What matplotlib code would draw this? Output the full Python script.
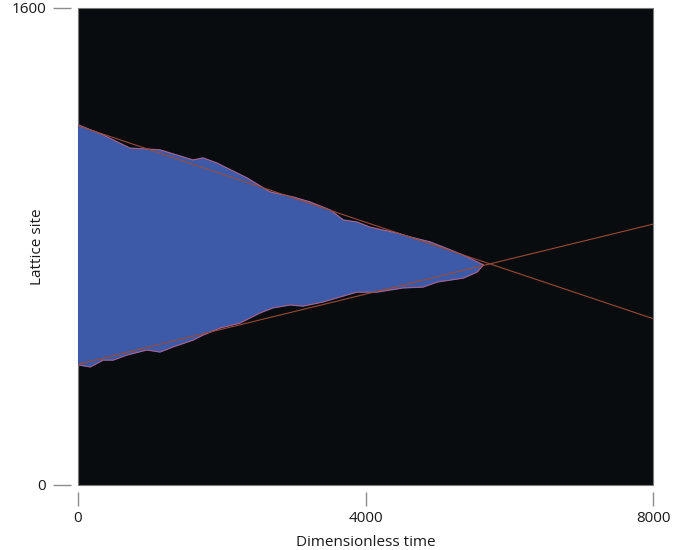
import matplotlib
matplotlib.use("Agg")
import matplotlib.pyplot as plt
import numpy as np

# -- data --
upper_t = [0, 350, 720, 1140, 1600, 1740, 1930, 2350, 2670, 2990, 3230,
           3510, 3690, 3880, 4060, 4240, 4440, 4620, 4900, 5080, 5360, 5640]
upper_v = [1208, 1174, 1130, 1124, 1090, 1097, 1080, 1030, 983, 966, 949,
           922, 889, 882, 865, 855, 845, 832, 815, 798, 771, 738]

lower_t = [0, 170, 350, 490, 680, 960, 1140, 1320, 1600, 1740, 1980, 2250,
           2530, 2710, 2950, 3130, 3410, 3650, 3880, 4160, 4520, 4800, 5000,
           5360, 5550, 5640]
lower_v = [403, 396, 419, 419, 436, 453, 446, 463, 486, 503, 527, 543,
           577, 594, 604, 600, 614, 631, 647, 647, 661, 664, 681,
           694, 714, 738]

fit_upper_t = [0, 8000]
fit_upper_v = [1205, 558]
fit_lower_t = [0, 8000]
fit_lower_v = [405, 875]

x_ticks = [0, 4000, 8000]
y_ticks = [0, 1600]

PALETTE = {
    "bg": "#080c0e",
    "fill": "#3c5aa8",
    "edge": "#c8607a",
    "fit": "#9a4a36",
    "tick": "#8c8c8c",
    "text": "#1a1a1a",
}

plt.rcParams["font.family"] = ["Open Sans", "DejaVu Sans"]

fig = plt.figure(figsize=(6.75, 5.5), dpi=100)
ax = fig.add_axes([0.1156, 0.1182, 0.8519, 0.8673])
ax.set_facecolor(PALETTE["bg"])
ax.patch.set_edgecolor("#7a7a7a")
ax.patch.set_linewidth(0.8)

# occupied region (upper edge left->right, lower edge right->left)
poly_t = list(upper_t) + list(lower_t[::-1])
poly_v = list(upper_v) + list(lower_v[::-1])
ax.fill(poly_t, poly_v, color=PALETTE["fill"], zorder=2)
ax.plot(upper_t, upper_v, color=PALETTE["edge"], lw=0.6, zorder=3)
ax.plot(lower_t, lower_v, color=PALETTE["edge"], lw=0.6, zorder=3)

# fitted fronts
ax.plot(fit_upper_t, fit_upper_v, color=PALETTE["fit"], lw=0.8, zorder=4)
ax.plot(fit_lower_t, fit_lower_v, color=PALETTE["fit"], lw=0.8, zorder=4)

ax.set_xlim(0, 8000)
ax.set_ylim(0, 1600)
ax.set_xticks(x_ticks)
ax.set_yticks(y_ticks)

for side in ["top", "right"]:
    ax.spines[side].set_visible(False)
for side in ["left", "bottom"]:
    ax.spines[side].set_position(("outward", 5))
    ax.spines[side].set_visible(False)

ax.tick_params(axis="y", direction="out", length=13, width=1.0,
               color=PALETTE["tick"], labelsize=11, labelcolor=PALETTE["text"], pad=5)
ax.tick_params(axis="x", direction="out", length=10, width=1.0,
               color=PALETTE["tick"], labelsize=11, labelcolor=PALETTE["text"], pad=4)

ax.set_xlabel("Dimensionless time", fontsize=11, color=PALETTE["text"], labelpad=6)
ax.set_ylabel("Lattice site", fontsize=11, color=PALETTE["text"])
ax.yaxis.set_label_coords(-0.058, 0.5)

fig.savefig("out.png", dpi=100, facecolor="white")
plt.close(fig)
